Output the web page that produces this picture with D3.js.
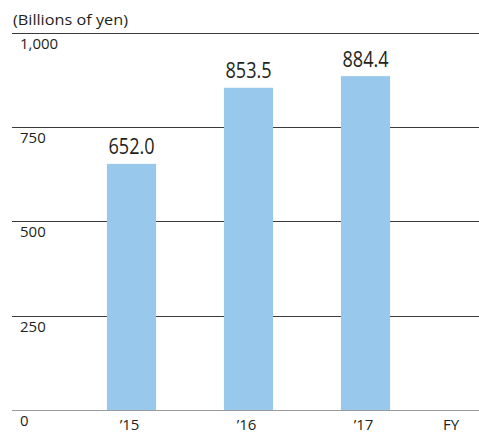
<!DOCTYPE html>
<html>
<head>
<meta charset="utf-8">
<script src="https://cdn.jsdelivr.net/npm/d3@7"></script>
<style>
  html, body { margin: 0; padding: 0; background: #fff; }
  svg { display: block; }
  text { font-family: "Open Sans", "Noto Sans", sans-serif; fill: #231f20; }
</style>
</head>
<body>
<svg id="chart" width="479" height="433"></svg>
<script>
// Net sales by fiscal year (billions of yen)
const years = ["’15", "’16", "’17"];
const values = [652.0, 853.5, 884.4];
const yTicks = [0, 250, 500, 750, 1000];
const unitLabel = "(Billions of yen)";
const periodLabel = "FY";

const W = 479, H = 433;
const svg = d3.select("#chart");

const y = d3.scaleLinear().domain([0, 1000]).range([410, 32.5]);
const x = d3.scaleBand().domain(years).range([73, 424]).paddingInner(0.58).paddingOuter(0.29);

const fmtTick = d3.format(",");

// horizontal gridlines
svg.append("g").selectAll("line")
  .data(yTicks)
  .join("line")
  .attr("x1", 12).attr("x2", W)
  .attr("y1", d => Math.round(y(d)) + 0.5).attr("y2", d => Math.round(y(d)) + 0.5)
  .attr("stroke", d => d === 0 ? "#9a9a9a" : "#3a3a3a")
  .attr("stroke-width", 1.2);

// tick labels sit just under each gridline
svg.append("g").selectAll("text")
  .data(yTicks)
  .join("text")
  .attr("x", 20)
  .attr("y", d => y(d) + 16)
  .attr("font-size", 15)
  .text(d => fmtTick(d));

// bars
svg.append("g").selectAll("rect")
  .data(values)
  .join("rect")
  .attr("x", (d, i) => x(years[i]))
  .attr("width", x.bandwidth())
  .attr("y", d => y(d))
  .attr("height", d => y(0) - y(d))
  .attr("fill", "#98c8ec");

// value labels
svg.append("g").selectAll("text")
  .data(values)
  .join("text")
  .attr("x", (d, i) => x(years[i]) + x.bandwidth() / 2)
  .attr("y", d => y(d) - 9.5)
  .attr("text-anchor", "middle")
  .attr("font-size", 21)
  .attr("textLength", 46)
  .attr("lengthAdjust", "spacingAndGlyphs")
  .text(d => d.toFixed(1));

// category labels
svg.append("g").selectAll("text")
  .data(years)
  .join("text")
  .attr("x", d => x(d) + x.bandwidth() / 2 - 2)
  .attr("y", 430)
  .attr("text-anchor", "middle")
  .attr("font-size", 15)
  .text(d => d);

svg.append("text")
  .attr("x", 451).attr("y", 430)
  .attr("text-anchor", "middle")
  .attr("font-size", 15)
  .text(periodLabel);

svg.append("text")
  .attr("x", 13).attr("y", 24.5)
  .attr("font-size", 15)
  .attr("textLength", 115)
  .attr("lengthAdjust", "spacingAndGlyphs")
  .text(unitLabel);
</script>
</body>
</html>
